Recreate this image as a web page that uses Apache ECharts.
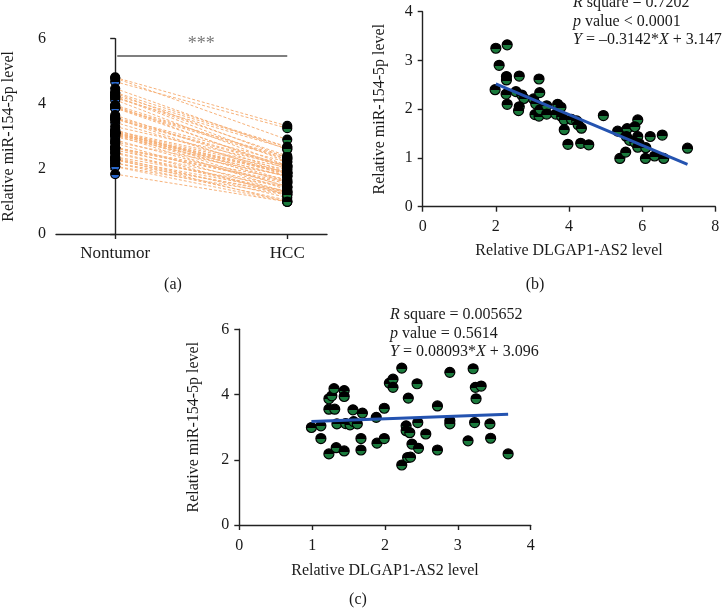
<!DOCTYPE html>
<html><head><meta charset="utf-8">
<script src="https://cdn.jsdelivr.net/npm/echarts@6/dist/echarts.min.js"></script>
<style>html,body{margin:0;padding:0;background:#fff}#c{width:725px;height:612px}</style>
</head><body><div id="c"></div>
<script>
// ---------- DATA ----------
const categoriesA = ['Nontumor', 'HCC'];
// paired values for panel (a)
const nontumor = [4.81,4.79,4.68,4.47,4.35,4.33,4.26,4.22,4.22,4.18,4.12,3.96,3.94,3.89,3.87,3.87,3.65,3.58,3.55,3.55,3.53,3.43,3.30,3.20,3.17,3.14,3.14,3.11,3.10,3.10,3.10,3.10,3.07,3.04,3.04,2.99,2.89,2.83,2.79,2.66,2.65,2.65,2.65,2.58,2.51,2.48,2.37,2.35,2.30,2.30,2.27,2.18,2.18,2.08,2.07,1.84];
const hcc = [3.32,2.90,3.25,2.60,2.68,2.34,2.67,2.22,2.40,2.62,2.10,2.31,1.99,2.36,2.05,2.29,1.90,2.21,2.11,1.78,2.07,1.87,2.10,1.64,2.04,1.97,1.58,1.89,1.85,1.44,1.90,1.76,1.61,1.86,1.36,1.79,1.47,1.78,1.29,1.68,1.60,1.21,1.55,1.44,1.30,1.27,1.44,1.12,1.32,0.99,1.22,1.28,1.04,1.20,0.99,0.99];
const sigLevel = 5.47;
const sigText = '***';
// panel (b)
const bX = [2.00,2.31,2.09,2.29,2.29,2.64,3.18,1.98,2.28,2.55,2.71,2.77,2.31,2.64,2.62,3.03,3.09,3.20,3.07,3.18,3.21,3.39,3.39,3.69,3.78,3.64,3.80,3.87,4.07,4.21,4.25,4.34,3.87,3.97,4.32,4.54,4.94,5.33,5.59,5.88,5.80,5.57,5.66,5.88,5.80,5.92,5.88,6.10,6.22,6.55,5.39,5.55,6.09,6.34,6.59,7.24];
const bY = [3.25,3.32,2.90,2.67,2.60,2.68,2.62,2.40,2.31,2.36,2.29,2.22,2.10,2.05,1.97,2.21,2.11,2.34,1.89,1.86,1.99,2.07,1.90,2.10,2.04,1.90,1.85,1.78,1.79,1.76,1.68,1.61,1.58,1.28,1.30,1.27,1.87,1.55,1.60,1.78,1.64,1.44,1.36,1.44,1.32,1.29,1.22,1.21,1.44,1.47,0.99,1.12,0.99,1.04,0.99,1.20];
const bFit = [[2.0, 2.52], [7.24, 0.87]];
const bStats = ['{i|R} square = 0.7202', '{i|p} value < 0.0001', '{i|Y} = –0.3142*{i|X} + 3.147'];
// panel (c)
const cX = [0.99,1.12,1.12,1.23,1.23,1.23,1.27,1.30,1.31,1.34,1.33,1.44,1.44,1.44,1.46,1.52,1.56,1.57,1.62,1.67,1.67,1.69,1.88,1.89,1.99,1.99,2.06,2.11,2.11,2.23,2.23,2.29,2.29,2.32,2.34,2.31,2.35,2.37,2.44,2.45,2.46,2.56,2.72,2.72,2.89,2.89,2.89,3.14,3.21,3.24,3.25,3.23,3.32,3.44,3.45,3.69];
const cY = [2.99,3.04,2.65,2.18,3.55,3.87,3.96,4.18,3.55,3.10,2.37,4.12,3.94,2.27,3.11,3.07,3.53,3.17,3.10,2.65,2.30,3.43,3.30,2.51,3.58,2.65,4.35,4.47,4.22,4.81,1.84,3.04,2.89,3.89,2.83,2.07,2.08,2.48,4.33,3.14,2.35,2.79,3.65,2.30,4.68,3.20,3.10,2.58,4.79,4.22,3.87,3.14,4.26,3.10,2.66,2.18];
const cFit = [[0.99, 3.176], [3.69, 3.395]];
const cStats = ['{i|R} square = 0.005652', '{i|p} value = 0.5614', '{i|Y} = 0.08093*{i|X} + 3.096'];
const yTitle = 'Relative miR-154-5p level';
const xTitle = 'Relative DLGAP1-AS2 level';
const panelLabels = ['(a)', '(b)', '(c)'];

// ---------- STYLE ----------
const FONT = 'Liberation Serif';
const FS = 16;
const TXT = '#1a1a1a';
const GREEN = '#1a7a3c';
const BLUE = '#2a68cc';
const ORANGE = '#f7b27a';
const FITBLUE = '#2453b0';

function halfFill(c) {
  return new echarts.graphic.LinearGradient(0, 0, 0, 1, [
    {offset: 0, color: '#000'}, {offset: 0.55, color: '#000'},
    {offset: 0.55, color: c}, {offset: 1, color: c}]);
}
const axisLine = {show: true, lineStyle: {color: '#222', width: 1.4}};
const axisTick = {show: true, length: 5, lineStyle: {color: '#222', width: 1.4}};
const lab = (m) => ({color: TXT, fontFamily: FONT, fontSize: FS, margin: m});
const nameTS = {color: TXT, fontFamily: FONT, fontSize: FS};
const mk = (c) => ({color: halfFill(c), borderColor: '#000', borderWidth: 1.2, opacity: 1});

const grids = [
  {left: 54.5, top: 38.7, width: 272.5, height: 195.3},
  {left: 422.7, top: 11.7, width: 292.6, height: 195},
  {left: 239.3, top: 329.3, width: 291.4, height: 195.7}
];

const xAxes = [
  {gridIndex: 0, type: 'value', min: -0.344, max: 1.231, axisLine,
   axisTick: Object.assign({}, axisTick, {customValues: [0, 1]}),
   axisLabel: Object.assign(lab(11), {customValues: [0, 1], formatter: v => categoriesA[Math.round(v)], fontSize: 17}),
   splitLine: {show: false}},
  {gridIndex: 1, type: 'value', min: 0, max: 8, interval: 2, axisLine, axisTick, axisLabel: lab(12),
   splitLine: {show: false}, name: xTitle, nameLocation: 'middle', nameGap: 36, nameTextStyle: nameTS},
  {gridIndex: 2, type: 'value', min: 0, max: 4, interval: 1, axisLine, axisTick, axisLabel: lab(13),
   splitLine: {show: false}, name: xTitle, nameLocation: 'middle', nameGap: 38, nameTextStyle: nameTS}
];
const yAxes = [
  {gridIndex: 0, type: 'value', min: 0, max: 6, interval: 2, axisLine, axisTick, axisLabel: lab(10),
   splitLine: {show: false}, name: yTitle, nameLocation: 'middle', nameGap: 39, nameTextStyle: nameTS},
  {gridIndex: 1, type: 'value', min: 0, max: 4, interval: 1, axisLine, axisTick, axisLabel: lab(10),
   splitLine: {show: false}, name: yTitle, nameLocation: 'middle', nameGap: 35, nameTextStyle: nameTS},
  {gridIndex: 2, type: 'value', min: 0, max: 6, interval: 2, axisLine, axisTick, axisLabel: lab(10),
   splitLine: {show: false}, name: yTitle, nameLocation: 'middle', nameGap: 38, nameTextStyle: nameTS}
];

const series = [];
// paired dashed lines
nontumor.forEach((n, i) => {
  series.push({type: 'line', xAxisIndex: 0, yAxisIndex: 0, data: [[0, n], [1, hcc[i]]],
    symbol: 'none', silent: true, animation: false, z: 1,
    lineStyle: {color: ORANGE, width: 1, type: [3, 2]}});
});
series.push({type: 'scatter', xAxisIndex: 0, yAxisIndex: 0, animation: false, z: 5,
  data: nontumor.map(v => [0, v]), symbolSize: 9, itemStyle: mk(BLUE)});
series.push({type: 'scatter', xAxisIndex: 0, yAxisIndex: 0, animation: false, z: 5,
  data: hcc.map(v => [1, v]), symbolSize: 9, itemStyle: mk(GREEN)});
// significance bracket
series.push({type: 'line', xAxisIndex: 0, yAxisIndex: 0, animation: false, symbol: 'none',
  data: [[0.012, sigLevel], [1, sigLevel]], lineStyle: {color: '#555', width: 1.6}});
series.push({type: 'scatter', xAxisIndex: 0, yAxisIndex: 0, animation: false, symbolSize: 0,
  data: [[0.5, sigLevel]],
  label: {show: true, position: 'top', distance: 3, formatter: sigText, color: '#555', fontFamily: FONT, fontSize: 18}});
// panel b
series.push({type: 'scatter', xAxisIndex: 1, yAxisIndex: 1, animation: false,
  data: bX.map((x, i) => [x, bY[i]]), symbolSize: 10, itemStyle: mk(GREEN)});
series.push({type: 'line', xAxisIndex: 1, yAxisIndex: 1, animation: false, symbol: 'none', z: 3,
  data: bFit, lineStyle: {color: FITBLUE, width: 3}});
// panel c
series.push({type: 'scatter', xAxisIndex: 2, yAxisIndex: 2, animation: false,
  data: cX.map((x, i) => [x, cY[i]]), symbolSize: 10, itemStyle: mk(GREEN)});
series.push({type: 'line', xAxisIndex: 2, yAxisIndex: 2, animation: false, symbol: 'none', z: 3,
  data: cFit, lineStyle: {color: FITBLUE, width: 3}});

const rich = {i: {fontStyle: 'italic', fontFamily: FONT, fontSize: FS, fill: TXT}};
function statTexts(lines, x, y0, dy) {
  return lines.map((t, k) => ({type: 'text', left: x, top: y0 + k * dy,
    style: {text: t, fill: TXT, font: FS + 'px "' + FONT + '"', rich}}));
}
const font = FS + 'px "' + FONT + '"';
const graphic = [].concat(
  statTexts(bStats, 573, -5, 18.6),
  statTexts(cStats, 390, 307, 18.3),
  [
    {type: 'text', x: 173, y: 285, style: {text: panelLabels[0], fill: TXT, font, align: 'center', verticalAlign: 'middle'}},
    {type: 'text', x: 535, y: 285, style: {text: panelLabels[1], fill: TXT, font, align: 'center', verticalAlign: 'middle'}},
    {type: 'text', x: 358, y: 600, style: {text: panelLabels[2], fill: TXT, font, align: 'center', verticalAlign: 'middle'}}
  ]
);

const chart = echarts.init(document.getElementById('c'), null, {renderer: 'canvas'});
chart.setOption({animation: false, backgroundColor: '#fff', grid: grids, xAxis: xAxes, yAxis: yAxes, series, graphic});
</script></body></html>
